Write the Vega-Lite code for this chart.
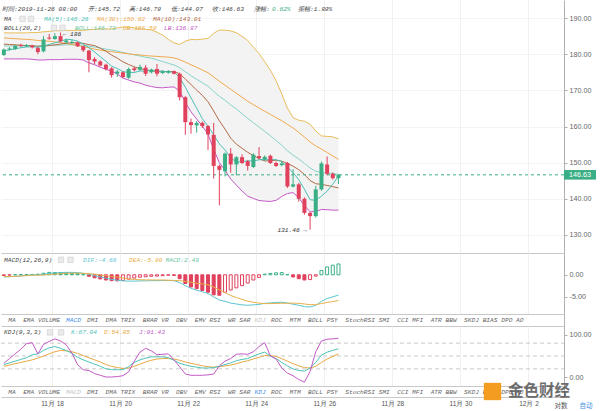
{
"$schema":"https://vega.github.io/schema/vega-lite/v6.json",
"padding":0,
"background":"#ffffff",
"spacing":0,
"bounds":"flush",
"config":{"view":{"stroke":null},"font":"Liberation Sans","axis":{"labelFont":"Liberation Sans","labelColor":"#666666","labelFontSize":7.2,"title":null},"text":{"font":"Liberation Mono","fontStyle":"italic","fontSize":6.2,"align":"left","baseline":"middle"}},
"datasets":{"k":[
{"t":"2019-11-16 12:00","o":179.8,"h":181.6,"l":179.5,"c":181.3,"ma5":180.9,"ma10":182.8,"ma30":184.5,"mid":182.3,"ub":185.9,"lb":178.7,"dif":-0.5,"dea":-0.42,"macd":-0.15,"k":30,"d":26,"j":33},
{"t":"2019-11-16 16:00","o":181.3,"h":182.0,"l":181.0,"c":181.6,"ma5":181.2,"ma10":182.7,"ma30":184.4,"mid":182.3,"ub":185.9,"lb":178.7,"dif":-0.45,"dea":-0.41,"macd":-0.08,"k":34,"d":29,"j":44},
{"t":"2019-11-16 20:00","o":181.4,"h":182.6,"l":181.2,"c":182.3,"ma5":181.5,"ma10":182.6,"ma30":184.3,"mid":182.3,"ub":185.9,"lb":178.7,"dif":-0.35,"dea":-0.36,"macd":0.02,"k":38,"d":32,"j":55},
{"t":"2019-11-17 00:00","o":182.5,"h":182.9,"l":182.0,"c":182.3,"ma5":181.8,"ma10":182.5,"ma30":184.2,"mid":182.3,"ub":185.9,"lb":178.7,"dif":-0.25,"dea":-0.28,"macd":0.05,"k":42,"d":35,"j":66},
{"t":"2019-11-17 04:00","o":182.2,"h":182.8,"l":182.0,"c":182.5,"ma5":182.0,"ma10":182.4,"ma30":184.1,"mid":182.3,"ub":185.9,"lb":178.7,"dif":-0.15,"dea":-0.18,"macd":0.06,"k":46,"d":38,"j":79},
{"t":"2019-11-17 08:00","o":182.4,"h":182.6,"l":181.6,"c":181.9,"ma5":182.12,"ma10":182.3,"ma30":184.0,"mid":182.3,"ub":186.0,"lb":178.6,"dif":-0.05,"dea":-0.09,"macd":0.08,"k":53,"d":41,"j":81},
{"t":"2019-11-17 12:00","o":181.7,"h":182.0,"l":180.0,"c":180.6,"ma5":181.92,"ma10":182.2,"ma30":183.8,"mid":182.2,"ub":186.0,"lb":178.4,"dif":0.0,"dea":-0.08,"macd":0.15,"k":55,"d":45,"j":55},
{"t":"2019-11-17 16:00","o":180.8,"h":185.0,"l":180.5,"c":184.1,"ma5":182.28,"ma10":182.3,"ma30":183.7,"mid":182.3,"ub":186.2,"lb":178.4,"dif":0.15,"dea":-0.03,"macd":0.35,"k":63,"d":50,"j":77},
{"t":"2019-11-17 20:00","o":184.6,"h":185.6,"l":184.0,"c":184.3,"ma5":182.68,"ma10":182.4,"ma30":183.6,"mid":182.4,"ub":186.3,"lb":178.5,"dif":0.3,"dea":0.03,"macd":0.55,"k":69,"d":55,"j":84},
{"t":"2019-11-18 00:00","o":184.2,"h":185.8,"l":184.0,"c":185.0,"ma5":183.18,"ma10":182.59,"ma30":183.4,"mid":182.5,"ub":186.5,"lb":178.5,"dif":0.4,"dea":0.14,"macd":0.52,"k":72,"d":60,"j":90},
{"t":"2019-11-18 04:00","o":185.0,"h":186.0,"l":183.3,"c":183.6,"ma5":183.52,"ma10":182.82,"ma30":183.2,"mid":182.5,"ub":186.5,"lb":178.5,"dif":0.5,"dea":0.25,"macd":0.5,"k":68,"d":63,"j":85},
{"t":"2019-11-18 08:00","o":183.3,"h":184.2,"l":182.9,"c":183.8,"ma5":184.16,"ma10":183.04,"ma30":183.0,"mid":182.6,"ub":186.6,"lb":178.6,"dif":0.55,"dea":0.33,"macd":0.45,"k":63,"d":62,"j":76},
{"t":"2019-11-18 12:00","o":183.1,"h":183.9,"l":182.8,"c":183.4,"ma5":184.02,"ma10":183.15,"ma30":182.7,"mid":182.6,"ub":186.6,"lb":178.6,"dif":0.55,"dea":0.36,"macd":0.38,"k":56,"d":60,"j":57},
{"t":"2019-11-18 16:00","o":183.2,"h":183.5,"l":182.0,"c":182.2,"ma5":183.6,"ma10":183.14,"ma30":182.4,"mid":182.6,"ub":186.6,"lb":178.6,"dif":0.5,"dea":0.38,"macd":0.25,"k":47,"d":56,"j":30},
{"t":"2019-11-18 20:00","o":182.2,"h":182.4,"l":180.6,"c":181.1,"ma5":182.82,"ma10":183.0,"ma30":182.1,"mid":182.5,"ub":186.6,"lb":178.4,"dif":0.35,"dea":0.33,"macd":0.05,"k":41,"d":51,"j":18},
{"t":"2019-11-19 00:00","o":181.0,"h":181.2,"l":175.0,"c":178.4,"ma5":181.78,"ma10":182.65,"ma30":181.8,"mid":182.2,"ub":186.8,"lb":177.6,"dif":0.1,"dea":0.28,"macd":-0.35,"k":36,"d":46,"j":16},
{"t":"2019-11-19 04:00","o":178.7,"h":179.2,"l":177.2,"c":178.0,"ma5":180.62,"ma10":182.39,"ma30":181.4,"mid":182.0,"ub":186.9,"lb":177.1,"dif":-0.2,"dea":0.15,"macd":-0.7,"k":31,"d":41,"j":9},
{"t":"2019-11-19 08:00","o":178.0,"h":178.3,"l":176.6,"c":176.9,"ma5":179.32,"ma10":181.67,"ma30":181.1,"mid":181.7,"ub":187.0,"lb":176.4,"dif":-0.5,"dea":-0.03,"macd":-0.95,"k":26,"d":36,"j":5},
{"t":"2019-11-19 12:00","o":177.1,"h":177.4,"l":175.5,"c":175.9,"ma5":178.06,"ma10":180.83,"ma30":180.9,"mid":181.4,"ub":187.0,"lb":175.8,"dif":-0.8,"dea":-0.2,"macd":-1.2,"k":20,"d":30,"j":1},
{"t":"2019-11-19 16:00","o":176.1,"h":176.4,"l":173.5,"c":174.2,"ma5":176.68,"ma10":179.75,"ma30":180.7,"mid":181.17,"ub":186.99,"lb":175.35,"dif":-1.05,"dea":-0.38,"macd":-1.35,"k":18,"d":26,"j":1},
{"t":"2019-11-19 20:00","o":174.6,"h":175.6,"l":173.7,"c":175.2,"ma5":176.04,"ma10":178.91,"ma30":180.5,"mid":180.87,"ub":187.25,"lb":174.49,"dif":-1.25,"dea":-0.55,"macd":-1.4,"k":18,"d":23,"j":2},
{"t":"2019-11-20 00:00","o":175.0,"h":175.3,"l":173.4,"c":173.7,"ma5":175.18,"ma10":177.9,"ma30":180.3,"mid":180.47,"ub":187.55,"lb":173.39,"dif":-1.4,"dea":-0.75,"macd":-1.3,"k":18,"d":21,"j":4},
{"t":"2019-11-20 04:00","o":173.5,"h":176.3,"l":173.2,"c":175.9,"ma5":174.98,"ma10":177.15,"ma30":180.1,"mid":180.15,"ub":187.45,"lb":172.85,"dif":-1.45,"dea":-0.95,"macd":-1.0,"k":25,"d":22,"j":13},
{"t":"2019-11-20 08:00","o":176.1,"h":176.5,"l":175.2,"c":175.6,"ma5":174.92,"ma10":176.49,"ma30":179.9,"mid":179.82,"ub":187.3,"lb":172.33,"dif":-1.45,"dea":-1.08,"macd":-0.75,"k":35,"d":26,"j":38},
{"t":"2019-11-20 12:00","o":175.7,"h":177.1,"l":175.4,"c":176.5,"ma5":175.38,"ma10":176.03,"ma30":179.8,"mid":179.52,"ub":187.04,"lb":172.0,"dif":-1.4,"dea":-1.13,"macd":-0.55,"k":41,"d":31,"j":59},
{"t":"2019-11-20 16:00","o":176.3,"h":177.0,"l":174.0,"c":174.6,"ma5":175.26,"ma10":175.65,"ma30":179.6,"mid":179.15,"ub":186.87,"lb":171.43,"dif":-1.4,"dea":-1.18,"macd":-0.45,"k":45,"d":36,"j":68},
{"t":"2019-11-20 20:00","o":175.0,"h":176.0,"l":174.7,"c":175.7,"ma5":175.66,"ma10":175.42,"ma30":179.5,"mid":178.91,"ub":186.75,"lb":171.07,"dif":-1.35,"dea":-1.18,"macd":-0.35,"k":48,"d":40,"j":62},
{"t":"2019-11-21 00:00","o":175.9,"h":177.3,"l":173.9,"c":174.6,"ma5":175.4,"ma10":175.19,"ma30":179.4,"mid":178.43,"ub":186.09,"lb":170.77,"dif":-1.35,"dea":-1.2,"macd":-0.3,"k":48,"d":43,"j":53},
{"t":"2019-11-21 04:00","o":174.8,"h":175.6,"l":174.5,"c":175.2,"ma5":175.32,"ma10":175.12,"ma30":179.3,"mid":177.98,"ub":185.26,"lb":170.7,"dif":-1.3,"dea":-1.2,"macd":-0.2,"k":48,"d":44,"j":54},
{"t":"2019-11-21 08:00","o":174.9,"h":175.6,"l":174.6,"c":175.3,"ma5":175.08,"ma10":175.23,"ma30":179.19,"mid":177.49,"ub":184.11,"lb":170.87,"dif":-1.3,"dea":-1.25,"macd":-0.1,"k":46,"d":44,"j":55},
{"t":"2019-11-21 12:00","o":175.3,"h":175.5,"l":174.4,"c":174.6,"ma5":175.08,"ma10":175.17,"ma30":178.97,"mid":177.04,"ub":183.14,"lb":170.94,"dif":-1.35,"dea":-1.28,"macd":-0.15,"k":40,"d":43,"j":41},
{"t":"2019-11-21 16:00","o":174.6,"h":174.9,"l":167.2,"c":168.1,"ma5":173.56,"ma10":174.61,"ma30":178.52,"mid":176.26,"ub":182.7,"lb":169.82,"dif":-1.8,"dea":-1.35,"macd":-0.9,"k":33,"d":40,"j":25},
{"t":"2019-11-21 20:00","o":168.1,"h":168.4,"l":157.7,"c":161.2,"ma5":170.88,"ma10":173.14,"ma30":177.81,"mid":175.15,"ub":183.61,"lb":166.69,"dif":-2.5,"dea":-1.5,"macd":-2.0,"k":29,"d":36,"j":8},
{"t":"2019-11-22 00:00","o":161.2,"h":162.2,"l":158.0,"c":160.4,"ma5":167.92,"ma10":171.62,"ma30":177.08,"mid":174.06,"ub":184.08,"lb":164.04,"dif":-3.1,"dea":-1.7,"macd":-2.8,"k":26,"d":33,"j":5},
{"t":"2019-11-22 04:00","o":160.3,"h":161.5,"l":158.3,"c":161.0,"ma5":165.06,"ma10":170.07,"ma30":176.37,"mid":173.05,"ub":184.03,"lb":162.07,"dif":-3.55,"dea":-1.95,"macd":-3.2,"k":24,"d":30,"j":5},
{"t":"2019-11-22 08:00","o":161.0,"h":161.4,"l":159.6,"c":160.1,"ma5":162.16,"ma10":168.62,"ma30":175.64,"mid":172.14,"ub":184.18,"lb":160.1,"dif":-3.9,"dea":-2.1,"macd":-3.6,"k":22,"d":27,"j":5},
{"t":"2019-11-22 12:00","o":160.1,"h":160.4,"l":153.5,"c":157.8,"ma5":160.1,"ma10":166.83,"ma30":174.88,"mid":171.13,"ub":184.37,"lb":157.89,"dif":-4.3,"dea":-2.3,"macd":-4.0,"k":22,"d":25,"j":6},
{"t":"2019-11-22 16:00","o":157.7,"h":161.0,"l":145.6,"c":149.1,"ma5":157.68,"ma10":164.28,"ma30":173.71,"mid":169.74,"ub":185.8,"lb":153.68,"dif":-5.1,"dea":-2.8,"macd":-4.6,"k":23,"d":24,"j":8},
{"t":"2019-11-22 20:00","o":149.1,"h":149.5,"l":138.2,"c":148.0,"ma5":155.2,"ma10":161.56,"ma30":172.5,"mid":168.34,"ub":186.7,"lb":149.98,"dif":-5.8,"dea":-3.45,"macd":-4.7,"k":26,"d":25,"j":27},
{"t":"2019-11-23 00:00","o":147.6,"h":152.8,"l":146.2,"c":152.5,"ma5":153.5,"ma10":159.28,"ma30":171.42,"mid":167.26,"ub":186.64,"lb":147.88,"dif":-6.1,"dea":-4.1,"macd":-4.0,"k":30,"d":27,"j":38},
{"t":"2019-11-23 04:00","o":152.5,"h":154.0,"l":147.2,"c":149.5,"ma5":151.38,"ma10":156.77,"ma30":170.28,"mid":165.97,"ub":186.45,"lb":145.49,"dif":-6.5,"dea":-4.75,"macd":-3.5,"k":34,"d":29,"j":44},
{"t":"2019-11-23 08:00","o":149.5,"h":151.8,"l":146.5,"c":151.5,"ma5":150.12,"ma10":155.11,"ma30":169.21,"mid":164.86,"ub":185.94,"lb":143.78,"dif":-6.7,"dea":-5.2,"macd":-3.0,"k":39,"d":32,"j":54},
{"t":"2019-11-23 12:00","o":151.5,"h":152.3,"l":149.6,"c":149.9,"ma5":150.28,"ma10":153.98,"ma30":168.09,"mid":163.56,"ub":184.96,"lb":142.16,"dif":-6.9,"dea":-5.65,"macd":-2.5,"k":42,"d":36,"j":55},
{"t":"2019-11-23 16:00","o":150.4,"h":150.7,"l":147.8,"c":149.1,"ma5":150.5,"ma10":152.85,"ma30":166.99,"mid":162.24,"ub":183.78,"lb":140.7,"dif":-7.0,"dea":-6.05,"macd":-1.9,"k":44,"d":39,"j":54},
{"t":"2019-11-23 20:00","o":148.8,"h":152.6,"l":148.5,"c":152.2,"ma5":150.44,"ma10":151.97,"ma30":166.02,"mid":161.02,"ub":181.94,"lb":140.1,"dif":-6.9,"dea":-6.3,"macd":-1.2,"k":50,"d":43,"j":60},
{"t":"2019-11-24 00:00","o":151.8,"h":154.3,"l":150.9,"c":151.3,"ma5":150.8,"ma10":151.09,"ma30":165.12,"mid":159.86,"ub":180.2,"lb":139.52,"dif":-6.8,"dea":-6.5,"macd":-0.6,"k":55,"d":47,"j":72},
{"t":"2019-11-24 04:00","o":150.9,"h":152.0,"l":150.5,"c":151.6,"ma5":150.82,"ma10":150.47,"ma30":164.24,"mid":158.65,"ub":177.93,"lb":139.37,"dif":-6.55,"dea":-6.62,"macd":0.15,"k":59,"d":51,"j":81},
{"t":"2019-11-24 08:00","o":151.9,"h":152.2,"l":149.6,"c":149.9,"ma5":150.82,"ma10":150.55,"ma30":163.34,"mid":157.42,"ub":175.58,"lb":139.26,"dif":-6.45,"dea":-6.6,"macd":0.3,"k":50,"d":51,"j":50},
{"t":"2019-11-24 12:00","o":149.9,"h":150.3,"l":148.8,"c":149.1,"ma5":150.82,"ma10":150.66,"ma30":162.45,"mid":156.11,"ub":172.65,"lb":139.57,"dif":-6.35,"dea":-6.57,"macd":0.45,"k":44,"d":49,"j":43},
{"t":"2019-11-24 16:00","o":149.3,"h":150.2,"l":149.0,"c":149.8,"ma5":150.34,"ma10":150.39,"ma30":161.63,"mid":154.84,"ub":169.04,"lb":140.64,"dif":-6.3,"dea":-6.55,"macd":0.5,"k":35,"d":44,"j":22},
{"t":"2019-11-24 20:00","o":149.9,"h":150.2,"l":143.0,"c":143.4,"ma5":148.76,"ma10":149.78,"ma30":160.57,"mid":153.28,"ub":165.1,"lb":141.46,"dif":-6.5,"dea":-6.52,"macd":0.05,"k":27,"d":38,"j":10},
{"t":"2019-11-25 00:00","o":143.4,"h":148.2,"l":143.1,"c":144.0,"ma5":147.24,"ma10":149.03,"ma30":159.58,"mid":152.07,"ub":162.43,"lb":141.71,"dif":-6.75,"dea":-6.5,"macd":-0.5,"k":20,"d":32,"j":4},
{"t":"2019-11-25 04:00","o":144.0,"h":144.4,"l":139.2,"c":140.0,"ma5":145.26,"ma10":148.04,"ma30":158.39,"mid":151.01,"ub":161.73,"lb":140.29,"dif":-7.0,"dea":-6.55,"macd":-0.9,"k":16,"d":27,"j":-5},
{"t":"2019-11-25 08:00","o":140.0,"h":140.4,"l":135.6,"c":136.1,"ma5":142.66,"ma10":146.74,"ma30":157.07,"mid":149.8,"ub":161.46,"lb":138.14,"dif":-7.3,"dea":-6.7,"macd":-1.2,"k":15,"d":23,"j":-11},
{"t":"2019-11-25 12:00","o":136.1,"h":136.4,"l":131.46,"c":135.2,"ma5":139.74,"ma10":145.04,"ma30":155.69,"mid":148.51,"ub":160.63,"lb":136.39,"dif":-7.4,"dea":-6.85,"macd":-1.1,"k":22,"d":22,"j":14},
{"t":"2019-11-25 16:00","o":135.2,"h":143.6,"l":134.8,"c":142.6,"ma5":139.58,"ma10":144.17,"ma30":154.63,"mid":147.63,"ub":158.77,"lb":136.49,"dif":-7.0,"dea":-6.85,"macd":-0.3,"k":35,"d":26,"j":60},
{"t":"2019-11-25 20:00","o":142.6,"h":150.3,"l":142.2,"c":149.8,"ma5":140.74,"ma10":143.99,"ma30":153.76,"mid":147.23,"ub":157.41,"lb":137.05,"dif":-6.1,"dea":-6.6,"macd":1.0,"k":52,"d":35,"j":85},
{"t":"2019-11-26 00:00","o":149.5,"h":151.7,"l":146.5,"c":146.9,"ma5":142.12,"ma10":143.69,"ma30":152.84,"mid":147.12,"ub":157.26,"lb":136.98,"dif":-5.45,"dea":-6.35,"macd":1.8,"k":59,"d":43,"j":89},
{"t":"2019-11-26 04:00","o":146.9,"h":147.3,"l":145.3,"c":145.7,"ma5":144.04,"ma10":143.35,"ma30":151.86,"mid":147.0,"ub":157.14,"lb":136.86,"dif":-5.05,"dea":-6.15,"macd":2.2,"k":63,"d":49,"j":90},
{"t":"2019-11-26 08:00","o":145.72,"h":146.79,"l":144.07,"c":146.63,"ma5":146.26,"ma10":143.01,"ma30":150.92,"mid":146.73,"ub":156.59,"lb":136.87,"dif":-4.66,"dea":-5.9,"macd":2.48,"k":67.04,"d":54.85,"j":91.43}
]},
"vconcat":[
{"width":563,"height":253,"data":{"name":"k"},
"layer":[
{"mark":{"type":"area","color":"#f3f3f3","clip":true},
 "encoding":{"x":{"field":"t","type":"temporal","timeUnit":{"unit":"yearmonthdatehours","step":4},"bandPosition":0.5,"scale":{"domain":[{"year":2019,"month":11,"date":16,"hours":12},{"year":2019,"month":12,"date":3,"hours":1,"minutes":4}]},
   "axis":{"orient":"bottom","values":[{"year":2019,"month":11,"date":18},{"year":2019,"month":11,"date":20},{"year":2019,"month":11,"date":22},{"year":2019,"month":11,"date":24},{"year":2019,"month":11,"date":26},{"year":2019,"month":11,"date":28},{"year":2019,"month":11,"date":30},{"year":2019,"month":12,"date":2}],"labels":false,"ticks":false,"domain":true,"domainColor":"#c8c8c8","grid":true,"gridColor":"#f0f0f0","title":null}},
  "y":{"field":"lb","type":"quantitative","scale":{"domain":[128.36,194.08]},"axis":{"orient":"right","values":[130,135,140,145,150,155,160,165,170,175,180,185,190],"format":".2f","grid":true,"gridColor":"#f3f3f3","domainColor":"#b0b0b0","tickColor":"#b0b0b0","tickSize":3,"labelPadding":2,"title":null}},
  "y2":{"field":"ub"}}},
{"mark":{"type":"line","color":"#e9bd5a","strokeWidth":1,"clip":true},"encoding":{"x":{"field":"t","type":"temporal","timeUnit":{"unit":"yearmonthdatehours","step":4},"bandPosition":0.5},"y":{"field":"ub","type":"quantitative"}}},
{"mark":{"type":"line","color":"#c558c8","strokeWidth":1,"clip":true},"encoding":{"x":{"field":"t","type":"temporal","timeUnit":{"unit":"yearmonthdatehours","step":4},"bandPosition":0.5},"y":{"field":"lb","type":"quantitative"}}},
{"mark":{"type":"line","color":"#86d3c9","strokeWidth":1,"clip":true},"encoding":{"x":{"field":"t","type":"temporal","timeUnit":{"unit":"yearmonthdatehours","step":4},"bandPosition":0.5},"y":{"field":"mid","type":"quantitative"}}},
{"mark":{"type":"line","color":"#f1a94e","strokeWidth":1,"clip":true},"encoding":{"x":{"field":"t","type":"temporal","timeUnit":{"unit":"yearmonthdatehours","step":4},"bandPosition":0.5},"y":{"field":"ma30","type":"quantitative"}}},
{"mark":{"type":"line","color":"#b36b45","strokeWidth":1,"clip":true},"encoding":{"x":{"field":"t","type":"temporal","timeUnit":{"unit":"yearmonthdatehours","step":4},"bandPosition":0.5},"y":{"field":"ma10","type":"quantitative"}}},
{"mark":{"type":"line","color":"#4bbfb6","strokeWidth":1,"clip":true},"encoding":{"x":{"field":"t","type":"temporal","timeUnit":{"unit":"yearmonthdatehours","step":4},"bandPosition":0.5},"y":{"field":"ma5","type":"quantitative"}}},
{"transform":[{"filter":"datum.c == 146.63"}],"mark":{"type":"rule","color":"#3aaf85","strokeDash":[3,3],"strokeWidth":1},"encoding":{"y":{"field":"c","type":"quantitative"}}},
{"mark":{"type":"rule","strokeWidth":1,"clip":true},"encoding":{"x":{"field":"t","type":"temporal","timeUnit":{"unit":"yearmonthdatehours","step":4},"bandPosition":0.5},"y":{"field":"l","type":"quantitative"},"y2":{"field":"h"},"color":{"condition":{"test":"datum.c >= datum.o","value":"#3aaf85"},"value":"#e0415c"}}},
{"mark":{"type":"rule","strokeWidth":4,"strokeCap":"butt","clip":true},"encoding":{"x":{"field":"t","type":"temporal","timeUnit":{"unit":"yearmonthdatehours","step":4},"bandPosition":0.5},"y":{"field":"o","type":"quantitative"},"y2":{"field":"c"},"color":{"condition":{"test":"datum.c >= datum.o","value":"#3aaf85"},"value":"#e0415c"}}},
{"transform":[{"filter":"datum.l == 131.46"}],"mark":{"type":"text","text":"131.46 →","align":"right","dx":-3,"color":"#333333"},"encoding":{"x":{"field":"t","type":"temporal","timeUnit":{"unit":"yearmonthdatehours","step":4},"bandPosition":0.5},"y":{"field":"l","type":"quantitative"}}},
{"transform":[{"filter":"datum.h == 186"}],"mark":{"type":"text","text":"← 186","align":"left","dx":2,"dy":1.5,"color":"#333333"},"encoding":{"x":{"field":"t","type":"temporal","timeUnit":{"unit":"yearmonthdatehours","step":4},"bandPosition":0.5},"y":{"field":"h","type":"quantitative"}}},
{"data":{"values":[{}]},"mark":{"type":"text","text":"时间:2019-11-26 08:00","color":"#444444"},"encoding":{"x":{"datum":{"year":2019,"month":11,"date":16,"hours":12,"minutes":42},"type":"temporal"},"y":{"datum":192.52,"type":"quantitative"}}},
{"data":{"values":[{}]},"mark":{"type":"text","text":"开:145.72","color":"#444444"},"encoding":{"x":{"datum":{"year":2019,"month":11,"date":19,"hours":1,"minutes":22},"type":"temporal"},"y":{"datum":192.52,"type":"quantitative"}}},
{"data":{"values":[{}]},"mark":{"type":"text","text":"高:146.79","color":"#444444"},"encoding":{"x":{"datum":{"year":2019,"month":11,"date":20,"hours":6,"minutes":16},"type":"temporal"},"y":{"datum":192.52,"type":"quantitative"}}},
{"data":{"values":[{}]},"mark":{"type":"text","text":"低:144.07","color":"#444444"},"encoding":{"x":{"datum":{"year":2019,"month":11,"date":21,"hours":11,"minutes":54},"type":"temporal"},"y":{"datum":192.52,"type":"quantitative"}}},
{"data":{"values":[{}]},"mark":{"type":"text","text":"收:146.63","color":"#444444"},"encoding":{"x":{"datum":{"year":2019,"month":11,"date":22,"hours":16,"minutes":48},"type":"temporal"},"y":{"datum":192.52,"type":"quantitative"}}},
{"data":{"values":[{}]},"mark":{"type":"text","text":"涨幅:","color":"#444444"},"encoding":{"x":{"datum":{"year":2019,"month":11,"date":23,"hours":22,"minutes":26},"type":"temporal"},"y":{"datum":192.52,"type":"quantitative"}}},
{"data":{"values":[{}]},"mark":{"type":"text","text":"0.62%","color":"#3aaf85"},"encoding":{"x":{"datum":{"year":2019,"month":11,"date":24,"hours":11,"minutes":8},"type":"temporal"},"y":{"datum":192.52,"type":"quantitative"}}},
{"data":{"values":[{}]},"mark":{"type":"text","text":"振幅:1.89%","color":"#444444"},"encoding":{"x":{"datum":{"year":2019,"month":11,"date":25,"hours":5,"minutes":28},"type":"temporal"},"y":{"datum":192.52,"type":"quantitative"}}},
{"data":{"values":[{}]},"mark":{"type":"text","text":"MA","color":"#444444"},"encoding":{"x":{"datum":{"year":2019,"month":11,"date":16,"hours":14,"minutes":7},"type":"temporal"},"y":{"datum":189.79,"type":"quantitative"}}},
{"data":{"values":[{}]},"mark":{"type":"point","shape":"square","size":30,"filled":true,"color":"#ebebeb","stroke":"#cccccc","strokeWidth":0.6,"opacity":1},"encoding":{"x":{"datum":{"year":2019,"month":11,"date":17,"hours":3,"minutes":10},"type":"temporal"},"y":{"datum":189.79,"type":"quantitative"}}},
{"data":{"values":[{}]},"mark":{"type":"point","shape":"square","size":30,"filled":true,"color":"#ebebeb","stroke":"#cccccc","strokeWidth":0.6,"opacity":1},"encoding":{"x":{"datum":{"year":2019,"month":11,"date":17,"hours":9,"minutes":10},"type":"temporal"},"y":{"datum":189.79,"type":"quantitative"}}},
{"data":{"values":[{}]},"mark":{"type":"text","text":"MA(5):146.26","color":"#4bbfb6"},"encoding":{"x":{"datum":{"year":2019,"month":11,"date":17,"hours":18,"minutes":20},"type":"temporal"},"y":{"datum":189.79,"type":"quantitative"}}},
{"data":{"values":[{}]},"mark":{"type":"text","text":"MA(30):150.92","color":"#f1a94e"},"encoding":{"x":{"datum":{"year":2019,"month":11,"date":19,"hours":7,"minutes":42},"type":"temporal"},"y":{"datum":189.79,"type":"quantitative"}}},
{"data":{"values":[{}]},"mark":{"type":"text","text":"MA(10):143.01","color":"#b36b45"},"encoding":{"x":{"datum":{"year":2019,"month":11,"date":20,"hours":23,"minutes":12},"type":"temporal"},"y":{"datum":189.79,"type":"quantitative"}}},
{"data":{"values":[{}]},"mark":{"type":"text","text":"BOLL(20,2)","color":"#444444"},"encoding":{"x":{"datum":{"year":2019,"month":11,"date":16,"hours":14,"minutes":7},"type":"temporal"},"y":{"datum":187.3,"type":"quantitative"}}},
{"data":{"values":[{}]},"mark":{"type":"point","shape":"square","size":30,"filled":true,"color":"#ebebeb","stroke":"#cccccc","strokeWidth":0.6,"opacity":1},"encoding":{"x":{"datum":{"year":2019,"month":11,"date":18,"hours":1,"minutes":23},"type":"temporal"},"y":{"datum":187.3,"type":"quantitative"}}},
{"data":{"values":[{}]},"mark":{"type":"point","shape":"square","size":30,"filled":true,"color":"#ebebeb","stroke":"#cccccc","strokeWidth":0.6,"opacity":1},"encoding":{"x":{"datum":{"year":2019,"month":11,"date":18,"hours":7,"minutes":22},"type":"temporal"},"y":{"datum":187.3,"type":"quantitative"}}},
{"data":{"values":[{}]},"mark":{"type":"text","text":"BOLL:146.73","color":"#6cc6a0"},"encoding":{"x":{"datum":{"year":2019,"month":11,"date":18,"hours":16,"minutes":11},"type":"temporal"},"y":{"datum":187.3,"type":"quantitative"}}},
{"data":{"values":[{}]},"mark":{"type":"text","text":"UB:156.59","color":"#e9b04a"},"encoding":{"x":{"datum":{"year":2019,"month":11,"date":20,"hours":2,"minutes":2},"type":"temporal"},"y":{"datum":187.3,"type":"quantitative"}}},
{"data":{"values":[{}]},"mark":{"type":"text","text":"LB:136.87","color":"#c558c8"},"encoding":{"x":{"datum":{"year":2019,"month":11,"date":21,"hours":6,"minutes":57},"type":"temporal"},"y":{"datum":187.3,"type":"quantitative"}}},
{"transform":[{"filter":"datum.c == 146.63"}],"mark":{"type":"point","shape":"M0,-0.3H2V0.3H0Z","size":1024,"filled":true,"color":"#3aaf85","opacity":1},"encoding":{"x":{"datum":{"year":2019,"month":12,"date":3,"hours":1,"minutes":4},"type":"temporal"},"y":{"field":"c","type":"quantitative"}}},
{"transform":[{"filter":"datum.c == 146.63"}],"mark":{"type":"text","font":"Liberation Sans","fontStyle":"normal","fontSize":7.2,"align":"center","dx":16,"color":"#ffffff"},"encoding":{"x":{"datum":{"year":2019,"month":12,"date":3,"hours":1,"minutes":4},"type":"temporal"},"y":{"field":"c","type":"quantitative"},"text":{"field":"c","type":"quantitative","format":".2f"}}}
]},
{"width":563,"height":61,"data":{"name":"k"},
"layer":[
{"transform":[{"window":[{"op":"lag","field":"macd","as":"prev"}],"sort":[{"field":"t","order":"ascending"}]}],
 "mark":{"type":"bar","width":3,"strokeWidth":1,"clip":true},
 "encoding":{"x":{"field":"t","type":"temporal","timeUnit":{"unit":"yearmonthdatehours","step":4},"bandPosition":0.5,"scale":{"domain":[{"year":2019,"month":11,"date":16,"hours":12},{"year":2019,"month":12,"date":3,"hours":1,"minutes":4}]},
   "axis":{"orient":"bottom","values":[{"year":2019,"month":11,"date":18},{"year":2019,"month":11,"date":20},{"year":2019,"month":11,"date":22},{"year":2019,"month":11,"date":24},{"year":2019,"month":11,"date":26},{"year":2019,"month":11,"date":28},{"year":2019,"month":11,"date":30},{"year":2019,"month":12,"date":2}],"labels":false,"ticks":false,"domain":true,"domainColor":"#c8c8c8","grid":true,"gridColor":"#f0f0f0","title":null}},
  "y":{"field":"macd","type":"quantitative","scale":{"domain":[-8.02,4.69]},"axis":{"orient":"right","values":[0,-5],"labelExpr":"datum.value == 0 ? '0.00' : '-5.00'","grid":false,"domainColor":"#b0b0b0","tickColor":"#b0b0b0","tickSize":3,"labelPadding":2,"title":null}},
  "y2":{"datum":0},
  "fill":{"condition":[{"test":"datum.prev != null && datum.macd < datum.prev && datum.macd >= 0","value":"#3aaf85"},{"test":"datum.prev != null && datum.macd < datum.prev","value":"#e0415c"}],"value":"#ffffff"},
  "stroke":{"condition":{"test":"datum.macd >= 0","value":"#3aaf85"},"value":"#e0415c"}}},
{"mark":{"type":"line","color":"#5cc6d3","strokeWidth":1,"clip":true},"encoding":{"x":{"field":"t","type":"temporal","timeUnit":{"unit":"yearmonthdatehours","step":4},"bandPosition":0.5},"y":{"field":"dif","type":"quantitative"}}},
{"mark":{"type":"line","color":"#e8b04c","strokeWidth":1,"clip":true},"encoding":{"x":{"field":"t","type":"temporal","timeUnit":{"unit":"yearmonthdatehours","step":4},"bandPosition":0.5},"y":{"field":"dea","type":"quantitative"}}},
{"data":{"values":[{}]},"mark":{"type":"text","text":"MACD(12,26,9)","color":"#444444"},"encoding":{"x":{"datum":{"year":2019,"month":11,"date":16,"hours":14,"minutes":7},"type":"temporal"},"y":{"datum":3.44,"type":"quantitative"}}},
{"data":{"values":[{}]},"mark":{"type":"point","shape":"square","size":30,"filled":true,"color":"#ebebeb","stroke":"#cccccc","strokeWidth":0.6,"opacity":1},"encoding":{"x":{"datum":{"year":2019,"month":11,"date":18,"hours":6,"minutes":19},"type":"temporal"},"y":{"datum":3.44,"type":"quantitative"}}},
{"data":{"values":[{}]},"mark":{"type":"point","shape":"square","size":30,"filled":true,"color":"#ebebeb","stroke":"#cccccc","strokeWidth":0.6,"opacity":1},"encoding":{"x":{"datum":{"year":2019,"month":11,"date":18,"hours":13,"minutes":1},"type":"temporal"},"y":{"datum":3.44,"type":"quantitative"}}},
{"data":{"values":[{}]},"mark":{"type":"text","text":"DIF:-4.66","color":"#5cc6d3"},"encoding":{"x":{"datum":{"year":2019,"month":11,"date":18,"hours":21,"minutes":50},"type":"temporal"},"y":{"datum":3.44,"type":"quantitative"}}},
{"data":{"values":[{}]},"mark":{"type":"text","text":"DEA:-5.90","color":"#e8b04c"},"encoding":{"x":{"datum":{"year":2019,"month":11,"date":20,"hours":6,"minutes":16},"type":"temporal"},"y":{"datum":3.44,"type":"quantitative"}}},
{"data":{"values":[{}]},"mark":{"type":"text","text":"MACD:2.48","color":"#6cc6a0"},"encoding":{"x":{"datum":{"year":2019,"month":11,"date":21,"hours":8,"minutes":0},"type":"temporal"},"y":{"datum":3.44,"type":"quantitative"}}}
]},
{"width":563,"height":12,
"layer":[
{"data":{"values":[{}]},"mark":{"type":"text","color":"#666666","text":"MA\u00a0\u00a0EMA\u00a0VOLUME"},
 "encoding":{"x":{"datum":{"year":2019,"month":11,"date":16,"hours":17,"minutes":9},"type":"temporal","scale":{"domain":[{"year":2019,"month":11,"date":16,"hours":12},{"year":2019,"month":12,"date":3,"hours":1,"minutes":4}]},"axis":{"orient":"bottom","labels":false,"ticks":false,"domain":true,"domainColor":"#c8c8c8","grid":false,"title":null}},
  "y":{"datum":0,"type":"quantitative","scale":{"domain":[-1,1]},"axis":{"orient":"right","labels":false,"ticks":false,"grid":false,"domain":true,"domainColor":"#b0b0b0","title":null}}}},
{"data":{"values":[{}]},"mark":{"type":"text","color":"#3d8ee6","text":"MACD"},"encoding":{"x":{"datum":{"year":2019,"month":11,"date":18,"hours":9,"minutes":50},"type":"temporal"},"y":{"datum":0,"type":"quantitative"}}},
{"data":{"values":[{}]},"mark":{"type":"text","color":"#666666","text":"DMI\u00a0\u00a0DMA\u00a0TRIX\u00a0\u00a0BRAR\u00a0VR\u00a0\u00a0OBV\u00a0\u00a0EMV\u00a0RSI\u00a0\u00a0WR\u00a0SAR"},"encoding":{"x":{"datum":{"year":2019,"month":11,"date":19,"hours":0,"minutes":39},"type":"temporal"},"y":{"datum":0,"type":"quantitative"}}},
{"data":{"values":[{}]},"mark":{"type":"text","color":"#c4c4c4","text":"KDJ"},"encoding":{"x":{"datum":{"year":2019,"month":11,"date":23,"hours":22,"minutes":47},"type":"temporal"},"y":{"datum":0,"type":"quantitative"}}},
{"data":{"values":[{}]},"mark":{"type":"text","color":"#666666","text":"ROC\u00a0\u00a0MTM\u00a0\u00a0BOLL\u00a0PSY\u00a0\u00a0StochRSI\u00a0SMI\u00a0\u00a0CCI\u00a0MFI\u00a0\u00a0ATR\u00a0BBW\u00a0\u00a0SKDJ\u00a0BIAS\u00a0DPO\u00a0AO"},"encoding":{"x":{"datum":{"year":2019,"month":11,"date":24,"hours":10,"minutes":25},"type":"temporal"},"y":{"datum":0,"type":"quantitative"}}}
]},
{"width":563,"height":60,"data":{"name":"k"},
"layer":[
{"data":{"values":[{"v":20},{"v":50},{"v":80}]},"mark":{"type":"rule","color":"#c8c8c8","strokeDash":[4,3],"strokeWidth":1},
 "encoding":{"x":{"datum":{"year":2019,"month":11,"date":16,"hours":12},"type":"temporal","scale":{"domain":[{"year":2019,"month":11,"date":16,"hours":12},{"year":2019,"month":12,"date":3,"hours":1,"minutes":4}]},
   "axis":{"orient":"bottom","values":[{"year":2019,"month":11,"date":18},{"year":2019,"month":11,"date":20},{"year":2019,"month":11,"date":22},{"year":2019,"month":11,"date":24},{"year":2019,"month":11,"date":26},{"year":2019,"month":11,"date":28},{"year":2019,"month":11,"date":30},{"year":2019,"month":12,"date":2}],"labels":false,"ticks":false,"domain":true,"domainColor":"#c8c8c8","grid":true,"gridColor":"#f0f0f0","title":null}},
  "x2":{"datum":{"year":2019,"month":12,"date":3,"hours":1,"minutes":4}},
  "y":{"field":"v","type":"quantitative","scale":{"domain":[-17.1,116.2]},"axis":{"orient":"right","values":[0,50,100],"format":".2f","grid":false,"domainColor":"#b0b0b0","tickColor":"#b0b0b0","tickSize":3,"labelPadding":2,"title":null}}}},
{"mark":{"type":"line","color":"#e8a845","strokeWidth":1,"clip":true},"encoding":{"x":{"field":"t","type":"temporal","timeUnit":{"unit":"yearmonthdatehours","step":4},"bandPosition":0.5},"y":{"field":"d","type":"quantitative"}}},
{"mark":{"type":"line","color":"#4ec3b6","strokeWidth":1,"clip":true},"encoding":{"x":{"field":"t","type":"temporal","timeUnit":{"unit":"yearmonthdatehours","step":4},"bandPosition":0.5},"y":{"field":"k","type":"quantitative"}}},
{"mark":{"type":"line","color":"#c35ac6","strokeWidth":1,"clip":true},"encoding":{"x":{"field":"t","type":"temporal","timeUnit":{"unit":"yearmonthdatehours","step":4},"bandPosition":0.5},"y":{"field":"j","type":"quantitative"}}},
{"data":{"values":[{}]},"mark":{"type":"text","text":"KDJ(9,3,3)","color":"#444444"},"encoding":{"x":{"datum":{"year":2019,"month":11,"date":16,"hours":14,"minutes":7},"type":"temporal"},"y":{"datum":105.1,"type":"quantitative"}}},
{"data":{"values":[{}]},"mark":{"type":"point","shape":"square","size":30,"filled":true,"color":"#ebebeb","stroke":"#cccccc","strokeWidth":0.6,"opacity":1},"encoding":{"x":{"datum":{"year":2019,"month":11,"date":17,"hours":22,"minutes":34},"type":"temporal"},"y":{"datum":105.1,"type":"quantitative"}}},
{"data":{"values":[{}]},"mark":{"type":"point","shape":"square","size":30,"filled":true,"color":"#ebebeb","stroke":"#cccccc","strokeWidth":0.6,"opacity":1},"encoding":{"x":{"datum":{"year":2019,"month":11,"date":18,"hours":6,"minutes":19},"type":"temporal"},"y":{"datum":105.1,"type":"quantitative"}}},
{"data":{"values":[{}]},"mark":{"type":"text","text":"K:67.04","color":"#4ec3b6"},"encoding":{"x":{"datum":{"year":2019,"month":11,"date":18,"hours":13,"minutes":22},"type":"temporal"},"y":{"datum":105.1,"type":"quantitative"}}},
{"data":{"values":[{}]},"mark":{"type":"text","text":"D:54.85","color":"#e8a845"},"encoding":{"x":{"datum":{"year":2019,"month":11,"date":19,"hours":12,"minutes":38},"type":"temporal"},"y":{"datum":105.1,"type":"quantitative"}}},
{"data":{"values":[{}]},"mark":{"type":"text","text":"J:91.43","color":"#c35ac6"},"encoding":{"x":{"datum":{"year":2019,"month":11,"date":20,"hours":13,"minutes":20},"type":"temporal"},"y":{"datum":105.1,"type":"quantitative"}}}
]},
{"width":563,"height":11,
"layer":[
{"data":{"values":[{}]},"mark":{"type":"text","color":"#666666","text":"MA\u00a0\u00a0EMA\u00a0VOLUME"},
 "encoding":{"x":{"datum":{"year":2019,"month":11,"date":16,"hours":17,"minutes":9},"type":"temporal","scale":{"domain":[{"year":2019,"month":11,"date":16,"hours":12},{"year":2019,"month":12,"date":3,"hours":1,"minutes":4}]},
   "axis":{"orient":"bottom","values":[{"year":2019,"month":11,"date":18},{"year":2019,"month":11,"date":20},{"year":2019,"month":11,"date":22},{"year":2019,"month":11,"date":24},{"year":2019,"month":11,"date":26},{"year":2019,"month":11,"date":28},{"year":2019,"month":11,"date":30},{"year":2019,"month":12,"date":2}],"format":"%-m月 %-d","labels":true,"labelFontSize":6.5,"labelColor":"#555555","labelPadding":3.5,"ticks":false,"domain":true,"domainColor":"#c8c8c8","grid":false,"title":null}},
  "y":{"datum":0,"type":"quantitative","scale":{"domain":[-1,1]},"axis":{"orient":"right","labels":false,"ticks":false,"grid":false,"domain":true,"domainColor":"#b0b0b0","title":null}}}},
{"data":{"values":[{}]},"mark":{"type":"text","color":"#c4c4c4","text":"MACD"},"encoding":{"x":{"datum":{"year":2019,"month":11,"date":18,"hours":9,"minutes":50},"type":"temporal"},"y":{"datum":0,"type":"quantitative"}}},
{"data":{"values":[{}]},"mark":{"type":"text","color":"#666666","text":"DMI\u00a0\u00a0DMA\u00a0TRIX\u00a0\u00a0BRAR\u00a0VR\u00a0\u00a0OBV\u00a0\u00a0EMV\u00a0RSI\u00a0\u00a0WR\u00a0SAR"},"encoding":{"x":{"datum":{"year":2019,"month":11,"date":19,"hours":0,"minutes":39},"type":"temporal"},"y":{"datum":0,"type":"quantitative"}}},
{"data":{"values":[{}]},"mark":{"type":"text","color":"#3d8ee6","text":"KDJ"},"encoding":{"x":{"datum":{"year":2019,"month":11,"date":23,"hours":22,"minutes":47},"type":"temporal"},"y":{"datum":0,"type":"quantitative"}}},
{"data":{"values":[{}]},"mark":{"type":"text","color":"#666666","text":"ROC\u00a0\u00a0MTM\u00a0\u00a0BOLL\u00a0PSY\u00a0\u00a0StochRSI\u00a0SMI\u00a0\u00a0CCI\u00a0MFI\u00a0\u00a0ATR\u00a0BBW\u00a0\u00a0SKDJ\u00a0BIAS\u00a0DPO\u00a0AO"},"encoding":{"x":{"datum":{"year":2019,"month":11,"date":24,"hours":10,"minutes":25},"type":"temporal"},"y":{"datum":0,"type":"quantitative"}}},
{"data":{"values":[{}]},"mark":{"type":"point","shape":"square","size":300,"filled":true,"color":"#f39c1f","opacity":1},"encoding":{"x":{"datum":{"year":2019,"month":11,"date":30,"hours":22,"minutes":38},"type":"temporal"},"y":{"datum":0,"type":"quantitative"}}},
{"data":{"values":[{}]},"mark":{"type":"text","text":"金色财经","font":"Noto Sans CJK SC","fontStyle":"normal","fontWeight":"bold","fontSize":15.5,"color":"#555555","opacity":0.85},"encoding":{"x":{"datum":{"year":2019,"month":12,"date":1,"hours":9,"minutes":36},"type":"temporal"},"y":{"datum":0.05,"type":"quantitative"}}},
{"data":{"values":[{}]},"mark":{"type":"text","text":"对数","font":"Noto Sans CJK SC","fontStyle":"normal","fontSize":6.5,"align":"center","color":"#555555"},"encoding":{"x":{"datum":{"year":2019,"month":12,"date":2,"hours":22,"minutes":57},"type":"temporal"},"y":{"datum":-2.7,"type":"quantitative"}}},
{"data":{"values":[{}]},"mark":{"type":"text","text":"自动","font":"Noto Sans CJK SC","fontStyle":"normal","fontSize":6.5,"align":"center","color":"#3d8ee6"},"encoding":{"x":{"datum":{"year":2019,"month":12,"date":3,"hours":16,"minutes":36},"type":"temporal"},"y":{"datum":-2.7,"type":"quantitative"}}}
]}
]
}
